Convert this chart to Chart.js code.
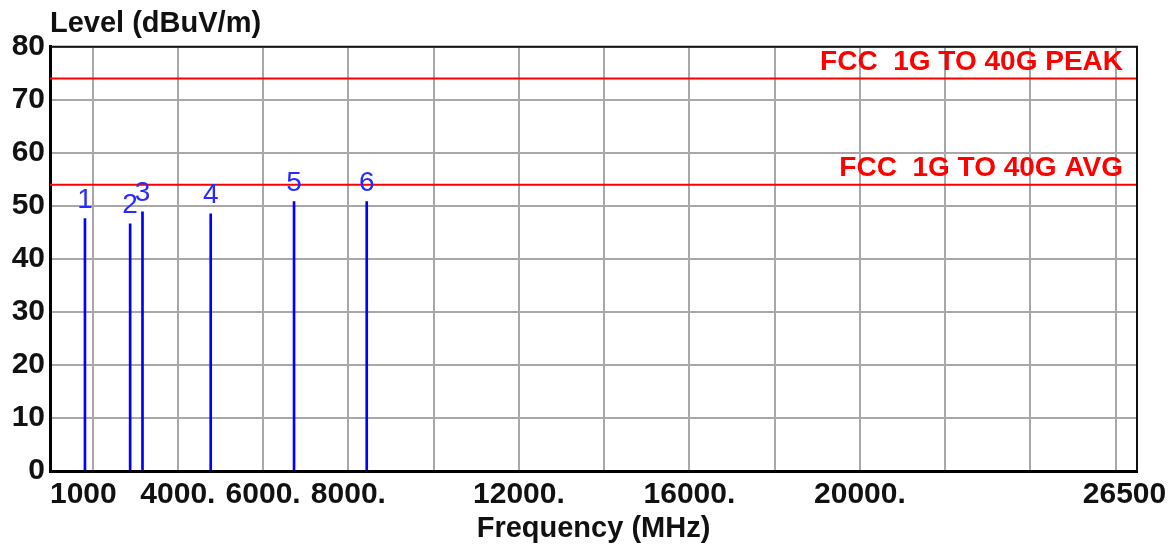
<!DOCTYPE html>
<html>
<head>
<meta charset="utf-8">
<script src="https://cdn.jsdelivr.net/npm/chart.js@4.4.0/dist/chart.umd.min.js"></script>
<style>
  html, body { margin: 0; padding: 0; background: #fff; }
</style>
</head>
<body>
<canvas id="myChart" width="1173" height="547"></canvas>
<script>
// marker peaks
var markerNo = ['1', '2', '3', '4', '5', '6'];
var markerFreq = [1820, 2880, 3170, 4770, 6725, 8430];
var markerLevel = [47.6, 46.6, 48.9, 48.5, 50.8, 50.8];

// limit lines
var limitNames = ['FCC  1G TO 40G PEAK', 'FCC  1G TO 40G AVG'];
var limitLevel = [74, 54];
var freqRange = [1000, 26500];

// axis ticks
var xGridValues = [2000, 4000, 6000, 8000, 10000, 12000, 14000, 16000, 18000, 20000, 22000, 24000, 26000];
var xTickValues = [1000, 4000, 6000, 8000, 12000, 16000, 20000, 26500];
var xTickLabels = ['1000', '4000.', '6000.', '8000.', '12000.', '16000.', '20000.', '26500'];
var yTicks = [0, 10, 20, 30, 40, 50, 60, 70, 80];

var FONT = '"Liberation Sans", Arial, sans-serif';

var limitSets = limitLevel.map(function (lv, i) {
  return {
    type: 'line',
    label: limitNames[i],
    data: [{x: freqRange[0], y: lv}, {x: freqRange[1], y: lv}],
    borderColor: '#ff0000',
    borderWidth: 2,
    pointRadius: 0
  };
});

// marker numbers, limit names and the thin top/right frame
var annotate = {
  id: 'annotate',
  afterDatasetsDraw: function (chart) {
    var c = chart.ctx, x = chart.scales.x, y = chart.scales.y, a = chart.chartArea;
    c.save();
    c.strokeStyle = '#111';
    c.lineWidth = 2;
    c.beginPath();
    c.moveTo(a.left, a.top);
    c.lineTo(a.right, a.top);
    c.lineTo(a.right, a.bottom);
    c.stroke();

    c.font = 'bold 28px ' + FONT;
    c.fillStyle = '#ff0000';
    c.textAlign = 'right';
    c.textBaseline = 'alphabetic';
    limitNames.forEach(function (n, i) {
      c.fillText(n, a.right - 14, y.getPixelForValue(limitLevel[i]) - 9);
    });

    c.font = '28px ' + FONT;
    c.fillStyle = '#2a2aff';
    c.textAlign = 'center';
    markerNo.forEach(function (n, i) {
      c.fillText(n, x.getPixelForValue(markerFreq[i]), y.getPixelForValue(markerLevel[i]) - 11);
    });
    c.restore();
  }
};

var ctx = document.getElementById('myChart').getContext('2d');
var myChart = new Chart(ctx, {
  type: 'bar',
  data: {
    datasets: [{
      label: 'Peaks',
      data: markerFreq.map(function (f, i) { return {x: f, y: markerLevel[i]}; }),
      backgroundColor: '#0000ff',
      borderWidth: 0,
      barThickness: 2
    }].concat(limitSets)
  },
  options: {
    responsive: false,
    animation: false,
    devicePixelRatio: 1,
    layout: { padding: { left: 0, right: 36, top: 0, bottom: 0 } },
    scales: {
      x: {
        type: 'linear',
        min: freqRange[0],
        max: freqRange[1],
        offset: false,
        afterBuildTicks: function (scale) {
          var vals = xGridValues.concat(xTickValues).filter(function (v, i, arr) { return arr.indexOf(v) === i; });
          vals.sort(function (p, q) { return p - q; });
          scale.ticks = vals.map(function (v) { return {value: v}; });
        },
        afterFit: function (scale) {
          scale.paddingLeft = 0;
          scale.paddingRight = 0;
          scale.height = 76;
        },
        grid: {
          offset: false,
          drawTicks: false,
          lineWidth: 2,
          color: function (c) {
            return c.tick && xGridValues.indexOf(c.tick.value) >= 0 ? '#a8a8a8' : 'rgba(0,0,0,0)';
          }
        },
        border: { color: '#000', width: 3 },
        ticks: {
          autoSkip: false,
          maxRotation: 0,
          padding: 6,
          color: '#111',
          font: { family: FONT, size: 30, weight: 'bold' },
          callback: function (value) {
            var i = xTickValues.indexOf(value);
            if (i < 0) return '';
            var s = xTickLabels[i];
            if (i === 0) s = '        ' + s;
            if (i === xTickLabels.length - 1) s = s + '   ';
            return s;
          }
        },
        title: {
          display: true,
          text: 'Frequency (MHz)',
          color: '#111',
          font: { family: FONT, size: 29, weight: 'bold' },
          padding: { top: 0, bottom: 1 }
        }
      },
      y: {
        min: 0,
        max: 80,
        afterBuildTicks: function (scale) {
          scale.ticks = yTicks.map(function (v) { return {value: v}; });
        },
        afterFit: function (scale) { scale.width = 50; },
        grid: { drawTicks: false, lineWidth: 2, color: '#a8a8a8' },
        border: { color: '#000', width: 3 },
        ticks: {
          padding: 5,
          color: '#111',
          font: { family: FONT, size: 30, weight: 'bold' }
        }
      }
    },
    plugins: {
      legend: { display: false },
      tooltip: { enabled: false },
      title: {
        display: true,
        text: 'Level (dBuV/m)',
        align: 'start',
        fullSize: false,
        color: '#111',
        font: { family: FONT, size: 29, weight: 'bold' },
        padding: { top: 7, bottom: 5 }
      }
    }
  },
  plugins: [annotate]
});
</script>
</body>
</html>
